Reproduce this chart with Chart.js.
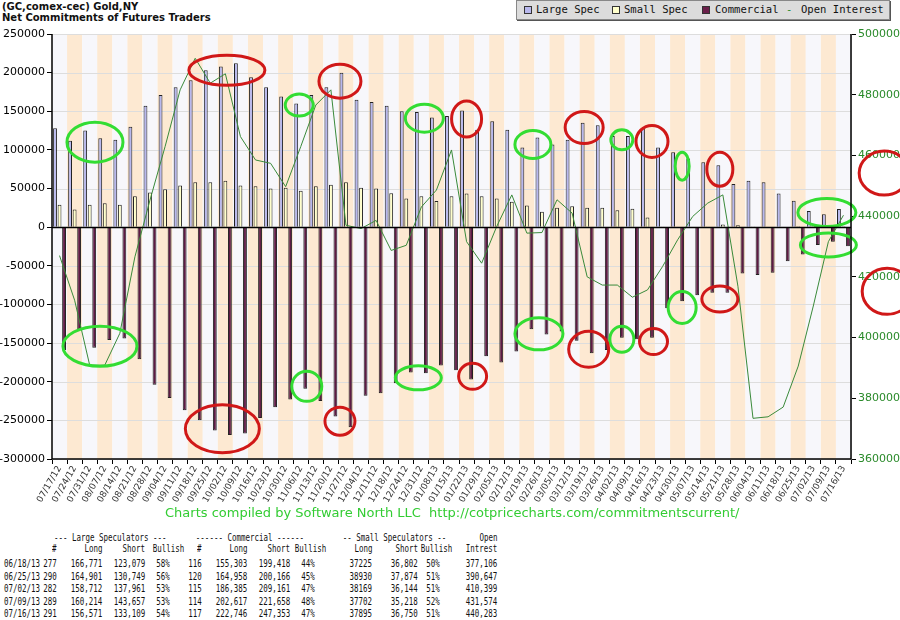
<!DOCTYPE html>
<html>
<head>
<meta charset="utf-8">
<script src="https://cdn.jsdelivr.net/npm/chart.js@4"></script>
<style>
  body { margin: 0; background: #fff; width: 900px; height: 620px; position: relative; overflow: hidden; font-family: "DejaVu Sans", sans-serif; }
  #wrap { position: absolute; left: 0; top: 0; width: 900px; height: 520px; }
  .title { position: absolute; left: 2px; font-size: 10px; font-weight: bold; color: #111; }
  #legend { position: absolute; left: 516px; top: 0; width: 372px; height: 18px; background: #dcdcdc; border: 1px solid #888; box-shadow: 1px 1px 0 #555; }
  .lg { position: absolute; top: 3px; font: 11px "DejaVu Sans Mono", monospace; line-height: 12px; white-space: nowrap; transform: scaleX(0.96); transform-origin: left; color: #111; }
  .sw { position: absolute; top: 5px; width: 6px; height: 6px; border: 1px solid #333; }
  #footer { position: absolute; left: 165px; top: 505px; font-size: 13px; color: #3c3; white-space: nowrap; }
  .cell { position: absolute; font: 11px "DejaVu Sans Mono", monospace; line-height: 12px; color: #111; white-space: nowrap; transform: scaleX(0.68); transform-origin: right; text-align: right; }
</style>
</head>
<body>
<div class="title" style="top:1px">(GC,comex-cec) Gold,NY</div>
<div class="title" style="top:12px">Net Commitments of Futures Traders</div>
<div id="legend">
  <i class="sw" style="left:7px;background:#b8b8ee"></i><div class="lg" style="left:19px">Large Spec</div>
  <i class="sw" style="left:95px;background:#ffffcc"></i><div class="lg" style="left:107px">Small Spec</div>
  <i class="sw" style="left:185px;background:#6a1f4a"></i><div class="lg" style="left:198px">Commercial</div>
  <div class="lg" style="left:269px;color:#2a8a2a">-</div><div class="lg" style="left:284px">Open Interest</div>
</div>
<div id="wrap"><canvas id="c" width="900" height="520"></canvas></div>
<div id="footer">Charts compiled by Software North LLC&nbsp; http://cotpricecharts.com/commitmentscurrent/</div>
<div id="table"></div>
<script>
const weeks = ["07/17/12","07/24/12","07/31/12","08/07/12","08/14/12","08/21/12","08/28/12","09/04/12","09/11/12","09/18/12",
  "09/25/12","10/02/12","10/09/12","10/16/12","10/23/12","10/30/12","11/06/12","11/13/12","11/20/12","11/27/12",
  "12/04/12","12/11/12","12/18/12","12/24/12","12/31/12","01/08/13","01/15/13","01/22/13","01/29/13","02/05/13",
  "02/12/13","02/19/13","02/26/13","03/05/13","03/12/13","03/19/13","03/26/13","04/02/13","04/09/13","04/16/13",
  "04/23/13","04/30/13","05/07/13","05/14/13","05/21/13","05/28/13","06/04/13","06/11/13","06/18/13","06/25/13",
  "07/02/13","07/09/13","07/16/13"];

const largeSpec = [128000,112000,125000,115000,113000,130000,157000,171000,181000,190000,
  203000,208000,212000,194000,181000,169000,160000,171000,181000,200000,
  165000,162000,157000,150000,149000,142000,144000,151000,126000,137000,
  126000,103000,116000,107000,113000,135000,132000,118000,118000,128000,
  103000,97000,89000,84000,80000,56000,60000,58000,43700,34200,
  20800,16600,23500];

const smallSpec = [29000,23000,29000,31000,29000,40000,45000,49000,54000,58000,
  58000,60000,54000,53000,50000,51000,47000,53000,55000,58000,
  51000,50000,44000,37000,40000,34000,40000,43500,40000,37000,
  33000,28000,20000,25000,27000,25000,25000,22000,24000,12500,
  1000,500,-500,1000,3500,2500,1000,-1000,400,1100,
  2000,2500,1100];

const commercial = [-159000,-132000,-156000,-146000,-144000,-171000,-204000,-221000,-237000,-250000,
  -263000,-269000,-267000,-247000,-233000,-223000,-209000,-225000,-245000,-259000,
  -218000,-215000,-202000,-188000,-189000,-179000,-185000,-197000,-167000,-175000,
  -161000,-132000,-139000,-135000,-147000,-163000,-159000,-143000,-145000,-143000,
  -105000,-96000,-88000,-85000,-85000,-60000,-62000,-59000,-44100,-35200,
  -22900,-19000,-24600];

const openInterest = [427000,412300,390900,390900,401400,426600,445300,462900,481600,492000,
  483800,486900,466200,458500,457400,449700,462900,476600,481600,437000,
  435900,438600,428700,430400,443000,448600,461800,431600,424500,436600,
  447000,434400,434600,445400,441000,420000,417300,417300,413300,415700,
  423400,432200,439900,444300,447000,416900,373400,373900,377100,390600,
  410400,431600,440300];

const leftTicks = [250000,200000,150000,100000,50000,0,-50000,-100000,-150000,-200000,-250000,-300000];
const rightTicks = [500000,480000,460000,440000,420000,400000,380000,360000];

// hand-drawn marks on the picture: [category position, left-axis value, rx, ry]
const greenRings = [[2.35,110000,28,20],[2.68,-154000,37,20],[15.9,158000,14,11],[16.4,-206000,15,15],
  [24.2,141000,19,14],[23.8,-195000,23,12],[31.4,107000,18,14],[31.8,-138000,24,16],[37.3,113000,11,10],
  [37.3,-145000,12,13],[41.3,79000,7,14],[41.3,-104000,14,16],[50.9,19000,29,14],[51.0,-23000,28,12]];
const redRings = [[11.1,203000,38,15],[18.6,189000,21,17],[10.8,-261000,37,24],[18.6,-251000,15,14],
  [27.0,140000,15,18],[27.4,-193000,14,13],[34.8,129000,19,16],[35.1,-158000,20,18],[39.3,111000,16,16],
  [39.4,-148000,14,13],[43.8,75000,13,17],[43.8,-93000,18,13],[54.7,70000,25,22],[54.9,-83000,25,23]];

const tableRows = [
  ["06/18/13","277","166,771","123,079","58%","116","155,303","199,418","44%","37225","36,802","50%","377,106"],
  ["06/25/13","290","164,901","130,749","56%","120","164,958","200,166","45%","38930","37,874","51%","390,647"],
  ["07/02/13","282","158,712","137,961","53%","115","186,385","209,161","47%","38169","36,144","51%","410,399"],
  ["07/09/13","289","160,214","143,657","53%","114","202,617","221,658","48%","37702","35,218","52%","431,574"],
  ["07/16/13","291","156,571","133,109","54%","117","222,746","247,353","47%","37895","36,750","51%","440,283"]
];

// table text
const colRight = [40,57,102,145,170,202,247,290,315,372,418,440,497];
const tbl = document.getElementById("table");
function cell(txt, right, top) {
  const d = document.createElement("div");
  d.className = "cell";
  d.textContent = txt;
  d.style.right = (900 - right) + "px";
  d.style.top = top + "px";
  tbl.appendChild(d);
}
cell("--- Large Speculators ---", 167, 532);
cell("------ Commercial ------", 304, 532);
cell("-- Small Speculators --", 446, 532);
cell("Open", 497, 532);
[["#",57],["Long",102],["Short",145],["Bullish",184],["#",202],["Long",247],["Short",290],["Bullish",326],
 ["Long",372],["Short",418],["Bullish",452],["Intrest",497]].forEach(([t, r]) => cell(t, r, 543));
tableRows.forEach((row, ri) => row.forEach((t, ci) => cell(t, colRight[ci], 558 + ri * 12.5)));

const bands = {
  id: "bands",
  beforeDatasetsDraw(chart) {
    const { ctx, chartArea: a, scales: { x } } = chart;
    const w = x.getPixelForValue(1) - x.getPixelForValue(0);
    ctx.save();
    weeks.forEach((_, i) => {
      const left = x.getPixelForValue(i) - w / 2;
      ctx.fillStyle = i % 2 ? "#fde9d2" : "#f7f7fb";
      ctx.fillRect(left, a.top, w, a.bottom - a.top);
    });
    ctx.strokeStyle = "#ddd";
    ctx.lineWidth = 1;
    leftTicks.forEach(v => {
      const yy = Math.round(chart.scales.y.getPixelForValue(v)) + 0.5;
      ctx.beginPath(); ctx.moveTo(a.left, yy); ctx.lineTo(a.right, yy); ctx.stroke();
    });
    ctx.restore();
  },
  afterDatasetsDraw(chart) {
    const { ctx, scales: { x, y }, chartArea: a } = chart;
    const ringDraw = (list, color) => {
      ctx.strokeStyle = color;
      list.forEach(([p, v, rx, ry]) => {
        const cx = x.getPixelForValue(0) + p * (x.getPixelForValue(1) - x.getPixelForValue(0));
        ctx.beginPath();
        ctx.ellipse(cx, y.getPixelForValue(v), rx, ry, 0, 0, Math.PI * 2);
        ctx.stroke();
      });
    };
    ctx.save();
    ctx.lineWidth = 3;
    ringDraw(greenRings, "#33dd33");
    ringDraw(redRings, "#d01818");
    ctx.strokeStyle = "#000";
    ctx.lineWidth = 1.5;
    ctx.beginPath();
    ctx.moveTo(a.left, a.top); ctx.lineTo(a.left, a.bottom); ctx.lineTo(a.right, a.bottom); ctx.lineTo(a.right, a.top);
    ctx.stroke();
    const z = Math.round(y.getPixelForValue(0)) + 0.5;
    ctx.beginPath(); ctx.moveTo(a.left, z); ctx.lineTo(a.right, z); ctx.stroke();
    ctx.restore();
  }
};

const plain = v => String(v);

new Chart(document.getElementById("c"), {
  type: "bar",
  data: {
    labels: weeks,
    datasets: [
      { type: "line", label: "Open Interest", data: openInterest, yAxisID: "y2", borderColor: "#3a8a3a", borderWidth: 1, pointRadius: 0, tension: 0, order: 0 },
      { label: "Large Spec", data: largeSpec, backgroundColor: "#b8b8ee", borderColor: "#222", borderWidth: 1, order: 1 },
      { label: "Small Spec", data: smallSpec, backgroundColor: "#ffffcc", borderColor: "#222", borderWidth: 1, order: 1 },
      { label: "Commercial", data: commercial, backgroundColor: "#5e1a44", borderColor: "#222", borderWidth: 1, order: 1 }
    ]
  },
  options: {
    responsive: false,
    animation: false,
    layout: { padding: { top: 34 } },
    datasets: { bar: { categoryPercentage: 0.9, barPercentage: 0.85 } },
    plugins: { legend: { display: false }, tooltip: { enabled: false } },
    scales: {
      x: {
        grid: { display: true, color: "#fff", drawOnChartArea: false, tickLength: 5, tickColor: "#000" },
        ticks: { color: "#333", font: { size: 9, family: "DejaVu Sans" }, minRotation: 60, maxRotation: 60, autoSkip: false, padding: 0 },
        afterFit(s) { s.height = 61; }
      },
      y: {
        min: -300000, max: 250000,
        afterBuildTicks(s) { s.ticks = leftTicks.map(v => ({ value: v })); },
        grid: { drawOnChartArea: false, tickLength: 5, tickColor: "#000" },
        ticks: { color: "#000", font: { size: 11, family: "DejaVu Sans" }, padding: 2, callback: plain },
        afterFit(s) { s.width = 52; }
      },
      y2: {
        position: "right",
        min: 360000, max: 500000,
        afterBuildTicks(s) { s.ticks = rightTicks.map(v => ({ value: v })); },
        grid: { drawOnChartArea: false, tickLength: 5, tickColor: "#000" },
        ticks: { color: "#2a8a2a", font: { size: 11, family: "DejaVu Sans" }, padding: 2, callback: plain },
        afterFit(s) { s.width = 49; }
      }
    }
  },
  plugins: [bands]
});
</script>
</body>
</html>
